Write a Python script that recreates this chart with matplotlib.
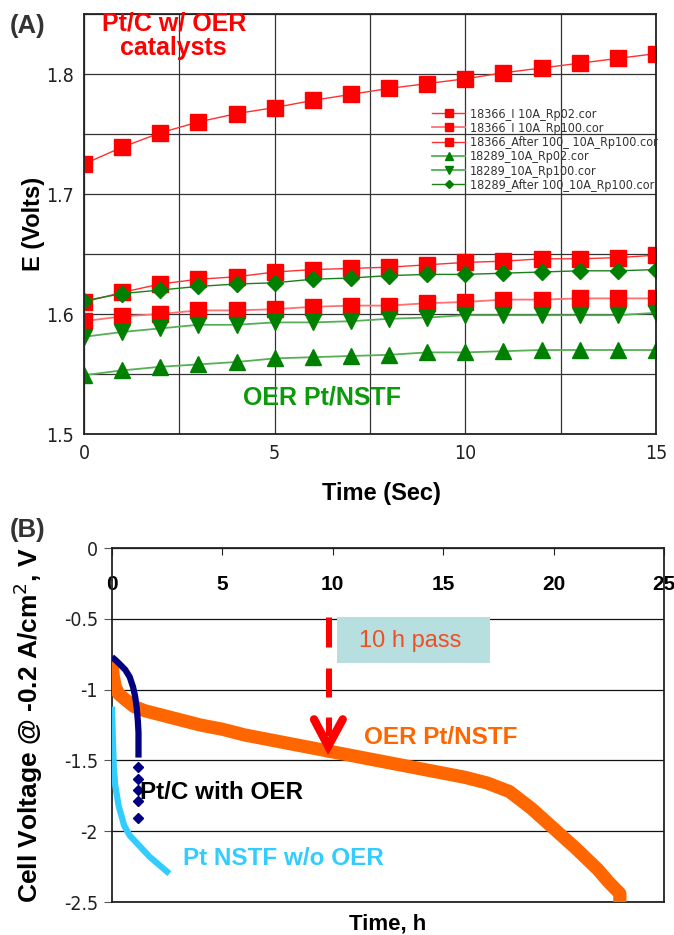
import matplotlib
matplotlib.use("Agg")
import matplotlib.pyplot as plt
from matplotlib import font_manager
from matplotlib.font_manager import FontProperties
from matplotlib.patches import Rectangle
from matplotlib.ticker import MultipleLocator, FormatStrFormatter

plt.rcParams['font.family'] = ['Liberation Sans', 'DejaVu Sans']


def narrow_font(size):
    # pick a narrow/condensed sans if one is installed, else plain Liberation Sans
    best = None
    for f in font_manager.fontManager.ttflist:
        if f.style != 'normal' or f.weight not in (400, 'normal', 'regular'):
            continue
        if 'Narrow' in f.name or 'Condensed' in f.name or f.stretch in ('condensed', 'semi-condensed'):
            if best is None or 'Liberation' in f.name:
                best = f
    if best is not None:
        return FontProperties(fname=best.fname, size=size)
    return FontProperties(family='Liberation Sans', size=size)


# ---- (A) potential hold, E (V) vs time (s)
time_s = list(range(16))
e_18366_rp02 = [1.725, 1.739, 1.751, 1.760, 1.767, 1.772, 1.778, 1.783, 1.788,
                1.792, 1.796, 1.801, 1.805, 1.809, 1.813, 1.817]
e_18366_rp100 = [1.594, 1.598, 1.600, 1.603, 1.603, 1.604, 1.606, 1.607, 1.607,
                 1.609, 1.610, 1.612, 1.612, 1.613, 1.613, 1.613]
e_18366_after = [1.610, 1.618, 1.625, 1.629, 1.631, 1.635, 1.637, 1.638, 1.639,
                 1.641, 1.643, 1.644, 1.646, 1.646, 1.647, 1.649]
e_18289_rp02 = [1.549, 1.553, 1.556, 1.558, 1.560, 1.563, 1.564, 1.565, 1.566,
                1.568, 1.568, 1.569, 1.570, 1.570, 1.570, 1.570]
e_18289_rp100 = [1.581, 1.585, 1.588, 1.591, 1.591, 1.593, 1.593, 1.594, 1.596,
                 1.597, 1.599, 1.599, 1.599, 1.599, 1.599, 1.601]
e_18289_after = [1.611, 1.617, 1.620, 1.623, 1.625, 1.626, 1.629, 1.630, 1.632,
                 1.633, 1.633, 1.634, 1.635, 1.636, 1.636, 1.637]
labels_a = ['18366_I 10A_Rp02.cor', '18366_I 10A_Rp100.cor',
            '18366_After 100_ 10A_Rp100.cor', '18289_10A_Rp02.cor',
            '18289_10A_Rp100.cor', '18289_After 100_10A_Rp100.cor']

# ---- (B) cell voltage vs time (h)
t_oer = [0, 0.05, 0.15, 0.3, 0.6, 1, 1.5, 2, 3, 4, 5, 6, 7, 8, 9, 10, 11, 12,
         13, 14, 15, 16, 17, 18, 19, 20, 21, 22, 22.5, 23.0, 23.0]
v_oer = [-0.80, -0.90, -0.98, -1.03, -1.07, -1.12, -1.15, -1.17, -1.21, -1.25,
         -1.28, -1.32, -1.35, -1.38, -1.41, -1.44, -1.47, -1.50, -1.53, -1.56,
         -1.59, -1.62, -1.66, -1.72, -1.84, -1.98, -2.12, -2.27, -2.36, -2.44, -2.55]
t_ptc = [0, 0.15, 0.35, 0.6, 0.8, 0.95, 1.05, 1.12, 1.17, 1.2, 1.2, 1.2]
v_ptc = [-0.77, -0.79, -0.82, -0.86, -0.91, -0.98, -1.05, -1.13, -1.22, -1.30,
         -1.40, -1.48]
t_ptc_pts = [1.2, 1.2, 1.2, 1.2, 1.2]
v_ptc_pts = [-1.55, -1.63, -1.71, -1.79, -1.91]
t_nstf = [0, 0.02, 0.05, 0.08, 0.15, 0.3, 0.55, 0.8, 1.1, 1.4, 1.7, 2.0, 2.3, 2.6]
v_nstf = [-1.12, -1.25, -1.40, -1.55, -1.68, -1.82, -1.96, -2.03, -2.08, -2.13,
          -2.18, -2.22, -2.26, -2.30]

RED = '#ff0000'
GREEN = '#008000'

fig = plt.figure(figsize=(6.74, 9.35), dpi=100)

# ================= panel A
ax = fig.add_axes([84/674, 1-434/935, 572/674, 420/935])
ax.plot(time_s, e_18366_rp02, '-s', color='#ff3030', mfc=RED, mec=RED, ms=11, lw=1, label=labels_a[0])
ax.plot(time_s, e_18366_rp100, '-s', color='#ff7070', mfc=RED, mec=RED, ms=11, lw=1.3, label=labels_a[1])
ax.plot(time_s, e_18366_after, '-s', color='#ff3030', mfc=RED, mec=RED, ms=11, lw=1, label=labels_a[2])
ax.plot(time_s, e_18289_rp02, '-^', color='#55b055', mfc=GREEN, mec=GREEN, ms=11, lw=1.3, label=labels_a[3])
ax.plot(time_s, e_18289_rp100, '-v', color='#55b055', mfc=GREEN, mec=GREEN, ms=11, lw=1.3, label=labels_a[4])
ax.plot(time_s, e_18289_after, '-D', color='#1a801a', mfc=GREEN, mec=GREEN, ms=8, lw=1, label=labels_a[5])

ax.set_xlim(0, 15)
ax.set_ylim(1.5, 1.85)
ax.xaxis.set_major_locator(MultipleLocator(5))
ax.xaxis.set_minor_locator(MultipleLocator(2.5))
ax.yaxis.set_major_locator(MultipleLocator(0.1))
ax.yaxis.set_minor_locator(MultipleLocator(0.05))
ax.yaxis.set_major_formatter(FormatStrFormatter('%.1f'))
ax.grid(True, which='both', color='#333333', lw=0.9)
ax.set_axisbelow(True)
ax.tick_params(which='both', length=0, pad=7, labelcolor='#222222')
for lab in ax.get_xticklabels() + ax.get_yticklabels():
    lab.set_fontproperties(narrow_font(14))
for s in ax.spines.values():
    s.set_color('#222222')
    s.set_linewidth(1.3)
ax.set_xlabel('Time (Sec)', fontsize=17, fontweight='bold', labelpad=15)
ax.xaxis.set_label_coords(0.52, -0.115)
ax.set_ylabel('E (Volts)', fontsize=17, fontweight='bold', labelpad=1)

leg = ax.legend(loc='upper left', bbox_to_anchor=(0.598, 0.792), frameon=False,
                handlelength=2.6, labelspacing=0.1, borderpad=0,
                handletextpad=0.4, markerscale=0.5, prop=narrow_font(9))
for txt in leg.get_texts():
    txt.set_color('#333333')

ax.text(0.157, 0.948, 'Pt/C w/ OER\ncatalysts', transform=ax.transAxes, ha='center',
        va='center', color=RED, fontsize=18, fontweight='bold', linespacing=1.05)
ax.text(0.416, 0.088, 'OER Pt/NSTF', transform=ax.transAxes, ha='center', va='center',
        color='#0a9a0a', fontsize=18, fontweight='bold')
fig.text(28/674, 1-26/935, '(A)', ha='center', va='center', fontsize=18.5,
         fontweight='bold', color='#333333')

# ================= panel B
bx = fig.add_axes([112/674, 1-902/935, 552/674, 354/935])
bx.plot(t_oer, v_oer, color='#ff6600', lw=9.5, solid_capstyle='butt', zorder=3)
bx.plot(t_nstf, v_nstf, color='#33ccff', lw=4.5, solid_capstyle='butt', zorder=4)
bx.plot(t_ptc, v_ptc, color='#000080', lw=4.5, solid_capstyle='butt', zorder=5)
bx.plot(t_ptc_pts, v_ptc_pts, 'D', color='#000080', ms=5, zorder=5)

bx.set_xlim(0, 25)
bx.set_ylim(-2.5, 0)
bx.xaxis.set_major_locator(MultipleLocator(5))
bx.yaxis.set_major_locator(MultipleLocator(0.5))
bx.yaxis.set_major_formatter(FormatStrFormatter('%g'))
bx.yaxis.grid(True, color='#111111', lw=0.9)
bx.set_axisbelow(True)
bx.xaxis.set_ticks_position('top')
bx.tick_params(axis='x', direction='in', length=5, labelsize=15, pad=-33, color='#222222')
bx.tick_params(axis='y', direction='out', length=6, pad=4, color='#555555',
               labelcolor='#222222')
for lab in bx.get_xticklabels():
    lab.set_fontweight('bold')
for lab in bx.get_yticklabels():
    lab.set_fontproperties(narrow_font(14))
for s in bx.spines.values():
    s.set_color('#222222')
    s.set_linewidth(1.3)
bx.set_xlabel('Time, h', fontsize=16, fontweight='bold')
bx.xaxis.set_label_position('bottom')
bx.xaxis.label.set_va('center')
bx.xaxis.set_label_coords(0.5, -0.063)
bx.set_ylabel('Cell Voltage @ -0.2 A/cm$^2$, V', fontsize=19, fontweight='bold', labelpad=14)

# 10 h marker
bx.add_patch(Rectangle((10.2, -0.81), 6.9, 0.32, facecolor='#b7dfe0', edgecolor='none', zorder=2))
bx.text(13.5, -0.66, '10 h pass', ha='center', va='center', color='#f04e23', fontsize=17)
for xx in (9.72, 9.86):
    for y0, y1 in ((-0.49, -0.70), (-0.85, -1.05), (-1.19, -1.33)):
        bx.plot([xx, xx], [y0, y1], color=RED, lw=2.2, solid_capstyle='butt', zorder=6)
bx.plot([9.15, 9.79, 10.45], [-1.21, -1.40, -1.21], color=RED, lw=6,
        solid_capstyle='round', solid_joinstyle='miter', zorder=6)

bx.text(11.4, -1.34, 'OER Pt/NSTF', ha='left', va='center', color='#ff6600',
        fontsize=17.5, fontweight='bold')
bx.text(1.25, -1.73, 'Pt/C with OER', ha='left', va='center', color='black',
        fontsize=17.5, fontweight='bold', zorder=7)
bx.text(3.2, -2.19, 'Pt NSTF w/o OER', ha='left', va='center', color='#33ccff',
        fontsize=17.5, fontweight='bold')
fig.text(28/674, 1-530/935, '(B)', ha='center', va='center', fontsize=18.5,
         fontweight='bold', color='#333333')

fig.savefig('out.png', dpi=100)
